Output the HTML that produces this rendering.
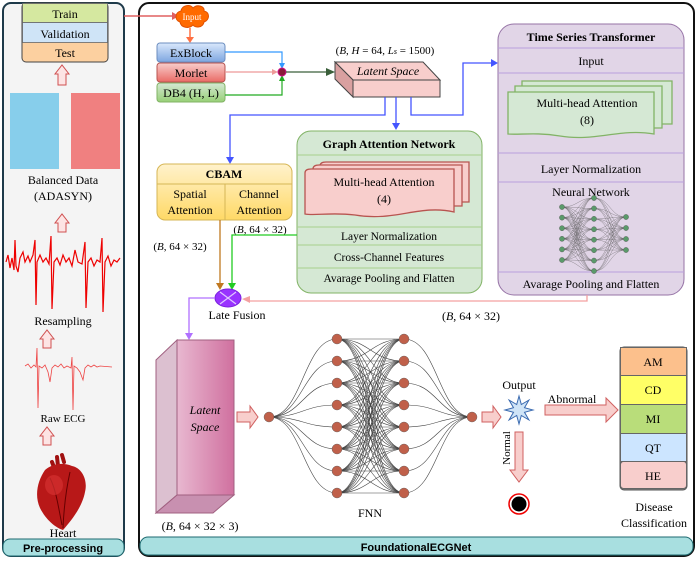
<!DOCTYPE html>
<html><head><meta charset="utf-8"><style>
body{margin:0;background:#fff}
svg{display:block;font-family:"Liberation Serif",serif}
</style></head><body>
<svg id="s" width="698" height="566" viewBox="0 0 698 566" xmlns="http://www.w3.org/2000/svg">
<defs>
<linearGradient id="yg" x1="0" y1="0" x2="0" y2="1"><stop offset="0" stop-color="#fff2cc"/><stop offset="1" stop-color="#ffd966"/></linearGradient>
<linearGradient id="lg" x1="0" y1="0" x2="1" y2="0"><stop offset="0" stop-color="#e8b8d0"/><stop offset="1" stop-color="#d0709f"/></linearGradient>
<linearGradient id="bg" x1="0" y1="0" x2="0" y2="1"><stop offset="0" stop-color="#dae8fc"/><stop offset="1" stop-color="#7ea6e0"/></linearGradient>
<linearGradient id="rg" x1="0" y1="0" x2="0" y2="1"><stop offset="0" stop-color="#f8cecc"/><stop offset="1" stop-color="#ea6b66"/></linearGradient>
<linearGradient id="gg" x1="0" y1="0" x2="0" y2="1"><stop offset="0" stop-color="#d5e8d4"/><stop offset="1" stop-color="#97d077"/></linearGradient>
</defs>
<!-- left panel -->
<rect x="3" y="3" width="121" height="553" rx="8" fill="#f4f4f4" stroke="#1e3a4a" stroke-width="2"/>
<rect x="3" y="539" width="121" height="17" rx="7" fill="#a8dfe0" stroke="#1e6a70" stroke-width="1"/>
<text x="63" y="552" font-family="Liberation Sans" font-weight="bold" font-size="11" text-anchor="middle">Pre-processing</text>
<rect x="22" y="3" width="86" height="59" rx="4" fill="#fcd0a0" stroke="#444"/>
<rect x="22.5" y="3.5" width="85" height="19" fill="#d5e8a0" stroke="#666" stroke-width="0.8"/>
<rect x="22.5" y="22.5" width="85" height="20" fill="#cfe4f7" stroke="#666" stroke-width="0.8"/>
<g font-size="12" text-anchor="middle"><text x="65" y="18">Train</text><text x="65" y="38">Validation</text><text x="65" y="57">Test</text></g>
<g fill="#fde4e4" stroke="#d05050" stroke-width="1">
<path d="M58,85 V74 H55 L62,65 L69,74 H66 V85 Z"/>
<path d="M58,232 V223 H55 L62,214 L69,223 H66 V232 Z"/>
<path d="M43,348 V339 H40 L47,330 L54,339 H51 V348 Z"/>
<path d="M43,445 V436 H40 L47,427 L54,436 H51 V445 Z"/>
</g>
<rect x="10" y="93" width="49" height="76" fill="#87ceeb"/>
<rect x="71" y="93" width="49" height="76" fill="#f08080"/>
<text x="63" y="184" font-size="12" text-anchor="middle">Balanced Data</text>
<text x="63" y="200" font-size="12" text-anchor="middle">(ADASYN)</text>
<polyline fill="none" stroke="#e00" stroke-width="1.2" points="6,262 8,255 10,268 12,258 14,270 15,240 16,266 18,272 20,258 23,252 25,262 28,256 30,262 33,255 35,240 36,305 37,262 40,255 43,262 46,258 49,264 51,236 52,309 54,262 57,258 60,265 63,255 66,262 69,258 72,266 75,250 78,262 82,264 85,242 86,308 88,262 91,258 94,266 97,260 100,262 102,238 103,312 105,262 108,256 111,266 114,260 117,262 120,258"/>
<text x="63" y="325" font-size="12" text-anchor="middle">Resampling</text>
<polyline fill="none" stroke="#e44" stroke-width="0.8" points="25,366 28,364 31,368 34,365 36,367 37,348 38,408 39,366 42,368 45,365 48,372 50,382 52,368 55,365 58,367 61,364 64,368 67,366 71,368 72,357 73,410 74,366 77,368 80,372 83,380 85,368 88,365 91,367 94,365 97,367 100,366 112,367"/>
<text x="63" y="422" font-size="11" text-anchor="middle">Raw ECG</text>
<!-- heart -->
<g>
<path d="M62,455 L64,462 M57,457 L58,466 M52,462 L55,470" stroke="#a01010" stroke-width="4" stroke-linecap="round"/>
<path d="M45,470 C38,480 34,495 40,508 C46,520 56,528 63,530 C70,522 82,508 85,492 C88,480 82,468 72,466 C62,462 52,464 45,470 Z" fill="#b81818"/>
<path d="M50,478 C56,490 58,505 62,525 M70,472 C66,490 64,505 63,528" stroke="#600" stroke-width="1" fill="none"/>
<ellipse cx="54" cy="485" rx="9" ry="10" fill="#d43030" opacity="0.7"/>
</g>
<text x="63" y="537" font-size="12" text-anchor="middle">Heart</text>

<!-- main panel -->
<rect x="139" y="3" width="555" height="553" rx="10" fill="#fff" stroke="#111" stroke-width="2"/>
<rect x="140" y="537" width="553" height="18" rx="8" fill="#a8dfe0" stroke="#1e6a70"/>
<text x="416" y="551" font-family="Liberation Sans" font-weight="bold" font-size="11" text-anchor="middle">FoundationalECGNet</text>

<!-- input -->
<path d="M124,16 H172" stroke="#e06060" stroke-width="1.5"/><path d="M172,12 L179,16 L172,20Z" fill="#e06060"/>
<path d="M180,22 C174,20 175,12 181,11 C182,5 190,4 193,8 C197,4 205,6 204,11 C210,12 210,20 204,22 C203,28 195,28 193,25 C189,29 181,28 180,22Z" fill="#ff6a00" stroke="#e05000"/>
<text x="192" y="20" font-size="9" fill="#fff" text-anchor="middle">Input</text>
<path d="M190,28 V38" stroke="#ff7043" stroke-width="1.5"/><path d="M186,37 L190,43 L194,37Z" fill="#ff7043"/>
<rect x="157" y="43" width="68" height="19" rx="3" fill="url(#bg)" stroke="#6c8ebf"/>
<rect x="157" y="63" width="68" height="19" rx="3" fill="url(#rg)" stroke="#b85450"/>
<rect x="157" y="83" width="68" height="19" rx="3" fill="url(#gg)" stroke="#82b366"/>
<g font-size="12" text-anchor="middle"><text x="191" y="57">ExBlock</text><text x="191" y="77">Morlet</text><text x="191" y="97">DB4 (H, L)</text></g>
<path d="M225,52 H282 V66" fill="none" stroke="#3399ff" stroke-width="1.2"/><path d="M279,63 L282,69 L285,63Z" fill="#3399ff"/>
<path d="M225,72 H274" stroke="#e99" stroke-width="1.2"/><path d="M272,69 L278,72 L272,75Z" fill="#e99"/>
<path d="M225,95 H282 V79" fill="none" stroke="#22aa22" stroke-width="1.2"/><path d="M279,81 L282,75 L285,81Z" fill="#22aa22"/>
<circle cx="282" cy="72" r="4" fill="#8b1a3a" stroke="#d0108a"/>
<path d="M286,72 H328" stroke="#3a5f3a" stroke-width="1.2"/><path d="M326,68 L335,72 L326,76Z" fill="#3a5f3a"/>
<!-- latent slab -->
<path d="M335,62 L423,62 L440,80 L353,80Z" fill="#f8cecc" stroke="#444"/>
<path d="M335,62 L353,80 L353,97 L335,79Z" fill="#d9a0a0" stroke="#444"/>
<rect x="353" y="80" width="87" height="17" fill="#f8cecc" stroke="#444"/>
<text x="388" y="75" font-size="12" font-style="italic" text-anchor="middle">Latent Space</text>
<text x="385" y="54" font-size="11" text-anchor="middle">(<tspan font-style="italic">B</tspan>, <tspan font-style="italic">H</tspan> = 64, <tspan font-style="italic">L<tspan font-size="8">s</tspan></tspan> = 1500)</text>
<g stroke="#4455ff" stroke-width="1.3" fill="none">
<path d="M385,97 V115 H230 V158"/>
<path d="M396,97 V124"/>
<path d="M411,97 V115 H463 V63 H492"/>
</g>
<g fill="#4455ff"><path d="M226,157 L230,164 L234,157Z"/><path d="M392,123 L396,130 L400,123Z"/><path d="M491,59 L498,63 L491,67Z"/></g>

<!-- CBAM -->
<rect x="157" y="164" width="135" height="56" rx="8" fill="url(#yg)" stroke="#d6b656"/>
<line x1="157" y1="184" x2="292" y2="184" stroke="#d6b656"/>
<line x1="225" y1="184" x2="225" y2="220" stroke="#d6b656"/>
<text x="224" y="178" font-size="12" font-weight="bold" text-anchor="middle">CBAM</text>
<g font-size="12" text-anchor="middle"><text x="190" y="198">Spatial</text><text x="190" y="214">Attention</text><text x="259" y="198">Channel</text><text x="259" y="214">Attention</text></g>
<text x="180" y="250" font-size="11" text-anchor="middle">(<tspan font-style="italic">B</tspan>, 64 × 32)</text>
<text x="260" y="233" font-size="11" text-anchor="middle">(<tspan font-style="italic">B</tspan>, 64 × 32)</text>

<!-- GAT -->
<rect x="297" y="131" width="185" height="162" rx="14" fill="#d5e8d4" stroke="#82b366"/>
<g stroke="#a8d08d"><line x1="297" y1="155" x2="482" y2="155"/><line x1="297" y1="227" x2="482" y2="227"/><line x1="297" y1="245" x2="482" y2="245"/><line x1="297" y1="268" x2="482" y2="268"/></g>
<text x="389" y="148" font-size="12" font-weight="bold" text-anchor="middle">Graph Attention Network</text>
<g fill="#f8cecc" stroke="#b85450" stroke-width="1.3">
<path d="M320,166 Q320,162 326,162 L469,162 L469,202 L320,202Z"/>
<path d="M313,169 Q313,165 319,165 L462,165 L462,206 L313,206Z"/>
<path d="M305,173 Q305,169 311,169 L454,169 L454,212 C420,204 395,222 355,215 C330,212 315,216 305,214Z"/>
</g>
<text x="384" y="186" font-size="12" text-anchor="middle">Multi-head Attention</text>
<text x="384" y="203" font-size="12" text-anchor="middle">(4)</text>
<g font-size="11.5" text-anchor="middle"><text x="389" y="240">Layer Normalization</text><text x="389" y="261">Cross-Channel Features</text><text x="389" y="282">Avarage Pooling and Flatten</text></g>

<!-- TST -->
<rect x="498" y="24" width="186" height="271" rx="16" fill="#e1d5e7" stroke="#9673a6"/>
<g stroke="#b99fdc"><line x1="498" y1="48" x2="684" y2="48"/><line x1="498" y1="73" x2="684" y2="73"/><line x1="498" y1="153" x2="684" y2="153"/><line x1="498" y1="182" x2="684" y2="182"/><line x1="498" y1="272" x2="684" y2="272"/></g>
<text x="591" y="41" font-size="12" font-weight="bold" text-anchor="middle">Time Series Transformer</text>
<text x="591" y="65" font-size="12" text-anchor="middle">Input</text>
<g fill="#d5e8d4" stroke="#82b366" stroke-width="1.3">
<path d="M522,81 L672,81 L672,124 L522,124Z"/>
<path d="M515,86 L662,86 L662,128 L515,128Z"/>
<path d="M508,92 L654,92 L654,134 C620,128 595,142 560,136 C535,132 520,135 508,134Z"/>
</g>
<text x="587" y="107" font-size="12" text-anchor="middle">Multi-head Attention</text>
<text x="587" y="124" font-size="12" text-anchor="middle">(8)</text>
<text x="591" y="173" font-size="12" text-anchor="middle">Layer Normalization</text>
<text x="591" y="196" font-size="12" text-anchor="middle">Neural Network</text>
<g id="nn1"></g>
<text x="591" y="288" font-size="12" text-anchor="middle">Avarage Pooling and Flatten</text>

<!-- fusion -->
<path d="M587,295 V301 H250" fill="none" stroke="#f4a0a0" stroke-width="1.3"/>
<path d="M250,296 L242,299 L250,303Z" fill="#f4a0a0"/>
<path d="M220,220 V284" stroke="#c07820" stroke-width="1.3"/><path d="M216,283 L220,290 L224,283Z" fill="#c07820"/>
<path d="M297,235 H232 V284" fill="none" stroke="#22cc22" stroke-width="1.3"/><path d="M228,283 L232,290 L236,283Z" fill="#22cc22"/>
<ellipse cx="228" cy="298" rx="13" ry="9" fill="#9933ff" stroke="#7a22dd"/>
<path d="M220,292 L236,304 M236,292 L220,304" stroke="#e0c8ff" stroke-width="1.2"/>
<text x="237" y="319" font-size="12" text-anchor="middle">Late Fusion</text>
<text x="471" y="320" font-size="12" text-anchor="middle">(<tspan font-style="italic">B</tspan>, 64 × 32)</text>
<path d="M215,298 H189 V334" fill="none" stroke="#b070ff" stroke-width="1.3"/><path d="M185,333 L189,340 L193,333Z" fill="#b070ff"/>

<!-- big latent -->
<path d="M156,360 L177,340 L177,495 L156,513Z" fill="#dcc0d0" stroke="#a06080"/>
<path d="M156,513 L177,495 L234,495 L213,513Z" fill="#c890b0" stroke="#a06080"/>
<rect x="177" y="340" width="57" height="155" fill="url(#lg)" stroke="#a06080"/>
<text x="205" y="414" font-size="12" font-style="italic" text-anchor="middle">Latent</text>
<text x="205" y="431" font-size="12" font-style="italic" text-anchor="middle">Space</text>
<text x="200" y="530" font-size="12" text-anchor="middle">(<tspan font-style="italic">B</tspan>, 64 × 32 × 3)</text>
<path d="M237,412 H250 V406 L258,417 L250,428 V422 H237Z" fill="#f8cecc" stroke="#d06060"/>
<g id="nn2"></g>
<text x="370" y="517" font-size="12" text-anchor="middle">FNN</text>
<path d="M482,412 H493 V406 L501,417 L493,428 V422 H482Z" fill="#f8cecc" stroke="#d06060"/>
<text x="519" y="389" font-size="12" text-anchor="middle">Output</text>
<polygon id="star" fill="#cfe4f7" stroke="#3a6ab0"/>
<path d="M545,405 H606 V398 L618,410 L606,422 V415 H545Z" fill="#f8cecc" stroke="#d06060"/>
<text x="572" y="403" font-size="12" text-anchor="middle">Abnormal</text>
<path d="M515,432 H523 V470 H528 L519,482 L510,470 H515Z" fill="#f8cecc" stroke="#d06060"/>
<text x="0" y="0" font-size="11" text-anchor="middle" transform="translate(510,448) rotate(-90)">Normal</text>
<circle cx="519" cy="504" r="10" fill="#fff" stroke="#e00" stroke-width="1.5"/><circle cx="519" cy="504" r="7.5" fill="#000"/>
<!-- disease -->
<rect x="620" y="347" width="67" height="143" rx="4" fill="#888" stroke="#555"/>
<rect x="620.5" y="347.5" width="66" height="28" fill="#fcc08c" stroke="#666"/>
<rect x="620.5" y="375.5" width="66" height="29" fill="#ffff66" stroke="#666"/>
<rect x="620.5" y="404.5" width="66" height="29" fill="#b9dd7a" stroke="#666"/>
<rect x="620.5" y="433.5" width="66" height="28" fill="#cce5ff" stroke="#666"/>
<rect x="620.5" y="461.5" width="66" height="27" rx="3" fill="#f8cecc" stroke="#666"/>
<g font-size="12" text-anchor="middle"><text x="653" y="366">AM</text><text x="653" y="394">CD</text><text x="653" y="423">MI</text><text x="653" y="452">QT</text><text x="653" y="480">HE</text>
<text x="654" y="511">Disease</text><text x="654" y="527">Classification</text></g>
</svg>
<script>
var NS="http://www.w3.org/2000/svg";
function el(p,t,a){var e=document.createElementNS(NS,t);for(var k in a)e.setAttribute(k,a[k]);p.appendChild(e);return e;}
function net(g,layers,r,fill,st,sw){
 for(var i=0;i<layers.length-1;i++){var A=layers[i],B=layers[i+1];
  A.ys.forEach(function(y1){B.ys.forEach(function(y2){
   var mx=(A.x+B.x)/2;
   el(g,"path",{d:"M"+A.x+","+y1+" C"+mx+","+y1+" "+mx+","+y2+" "+B.x+","+y2,fill:"none",stroke:st,"stroke-width":sw});});});}
 layers.forEach(function(L){L.ys.forEach(function(y){el(g,"circle",{cx:L.x,cy:y,r:r,fill:fill,stroke:"#555","stroke-width":0.4});});});
}
function range(a,b,n){var o=[];for(var i=0;i<n;i++)o.push(a+(b-a)*i/(n-1));return o;}
net(document.getElementById("nn1"),[{x:562,ys:range(207,260,6)},{x:594,ys:range(198,271,8)},{x:626,ys:range(217,250,4)}],2.6,"#5a9a6a","#555",0.3);
var l8=range(339,493,8);
net(document.getElementById("nn2"),[{x:269,ys:[417]},{x:337,ys:l8},{x:404,ys:l8},{x:472,ys:[417]}],5,"#c0604a","#444",0.6);
var pts=[],cx=519,cy=410;for(var i=0;i<16;i++){var a=Math.PI*2*i/16-Math.PI/2,r=i%2?6:14;pts.push((cx+r*Math.cos(a)).toFixed(1)+","+(cy+r*Math.sin(a)).toFixed(1));}
document.getElementById("star").setAttribute("points",pts.join(" "));
</script>
</body></html>
